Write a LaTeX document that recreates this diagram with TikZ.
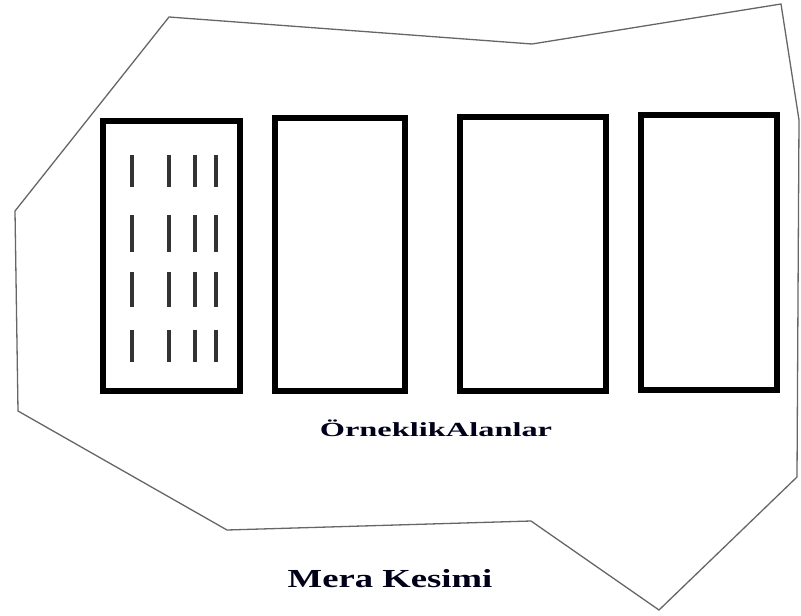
\documentclass[tikz,border=0pt]{standalone}
\usepackage{fontspec}
\setmainfont{Liberation Serif}
\begin{document}
\begin{tikzpicture}[x=1pt,y=-1pt,
  boundary/.style={draw=black!60,line width=1.3pt,line join=miter},
  plot/.style={draw=black,line width=5.5pt,line join=miter},
  mark line/.style={draw=black!80,line width=3.2pt},
  label text/.style={font=\bfseries,text=black!90!blue,inner sep=0pt}]
\useasboundingbox (0,0) rectangle (801,616);
% pasture boundary
\draw[boundary] (169,17) -- (532,44) -- (781,4) -- (799,120) -- (797,477)
  -- (659,610) -- (531,521) -- (227,530) -- (18,411) -- (15,211) -- cycle;
% sample plots
\draw[plot] (103,121) rectangle (240,391);
\draw[plot] (275,118) rectangle (405,391);
\draw[plot] (460,117) rectangle (606,391);
\draw[plot] (641,115) rectangle (777,390);
% marks inside the first plot
\foreach \x in {132,169,195,216}{
  \foreach \ya/\yb in {155/187,215/252,272/307,330/362}{
    \draw[mark line] (\x,\ya) -- (\x,\yb);
  }
}
\node[label text] (samples) at (436,428) {\scalebox{1.62}[1]{\fontsize{20}{24}\selectfont ÖrneklikAlanlar}};
\node[label text] (pasture) at (390,579) {\scalebox{1.41}[1]{\fontsize{26}{30}\selectfont Mera Kesimi}};
\end{tikzpicture}
\end{document}
